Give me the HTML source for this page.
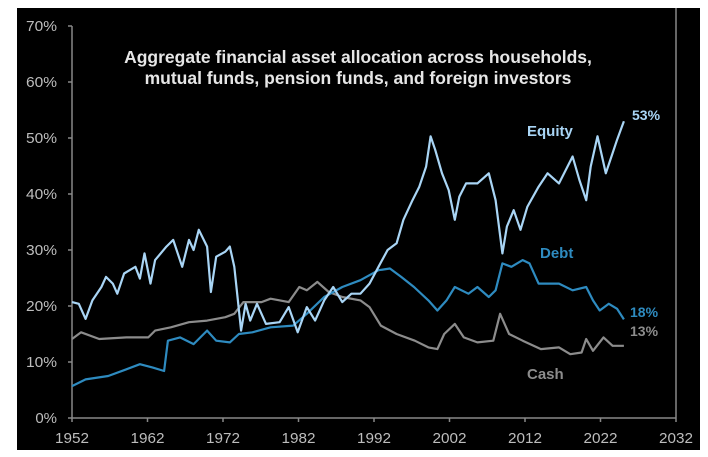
<!DOCTYPE html>
<html><head><meta charset="utf-8"><style>
html,body{margin:0;padding:0;background:#fff;}
svg{display:block;font-family:"Liberation Sans",sans-serif;}
</style></head><body>
<svg width="708" height="457" viewBox="0 0 708 457">
<rect x="17" y="8" width="683" height="442" fill="#000"/>
<g id="axes"></g>
<g id="series"></g>
<text x="358" y="63" text-anchor="middle" fill="#e6e6e6" font-size="17.5" font-weight="bold">Aggregate financial asset allocation across households,</text>
<text x="358" y="84" text-anchor="middle" fill="#e6e6e6" font-size="17.5" font-weight="bold">mutual funds, pension funds, and foreign investors</text>
<text x="527" y="136" fill="#a9d5f5" font-size="15" font-weight="bold">Equity</text>
<text x="632" y="120" fill="#a9d5f5" font-size="14" font-weight="bold">53%</text>
<text x="540" y="258" fill="#2e8bc0" font-size="15" font-weight="bold">Debt</text>
<text x="630" y="317" fill="#2e8bc0" font-size="14" font-weight="bold">18%</text>
<text x="630" y="336" fill="#8c8c8c" font-size="14" font-weight="bold">13%</text>
<text x="527" y="379" fill="#8c8c8c" font-size="15" font-weight="bold">Cash</text>
</svg>
<script>
const xTicks=[1952,1962,1972,1982,1992,2002,2012,2022,2032];
const yTicks=[0,10,20,30,40,50,60,70];
const equityYears=[1952,1952.9,1953.8,1954.7,1955.9,1956.5,1957.4,1958,1958.9,1960.4,1961,1961.6,1962.4,1963,1964.5,1965.4,1966.6,1967.5,1968.1,1968.8,1969.9,1970.4,1971.1,1972.3,1972.9,1973.5,1974.4,1975,1975.6,1976.5,1977.7,1979.5,1980.7,1981.9,1983.1,1984.2,1985.4,1986.6,1987.8,1989,1990.2,1991.4,1992.6,1993.8,1995,1995.9,1997.1,1998,1998.9,1999.5,2000.1,2001,2001.9,2002.7,2003.3,2004.2,2005.7,2007.2,2008.1,2009,2009.6,2010.5,2011.4,2012.3,2013.8,2015,2016.5,2018.3,2019.2,2020.1,2020.7,2021.6,2022.7,2023.6,2024.2,2025.1];
const equityValues=[20.7,20.4,17.7,21,23.4,25.2,24,22.2,25.8,27,24.9,29.4,24,28.2,30.6,31.8,27,31.8,30,33.6,30.6,22.5,28.8,29.7,30.6,27,15.6,20.4,17.4,20.4,16.8,17.1,19.8,15.3,19.8,17.4,21,23.4,20.7,22.2,22.2,24,27,30,31.2,35.4,38.9,41.3,44.9,50.3,47.9,43.7,40.7,35.4,39.5,41.9,41.9,43.7,38.9,29.4,34.2,37.1,33.6,37.7,41.3,43.7,41.9,46.7,42.5,38.9,44.9,50.3,43.7,47.3,49.7,53];
const debtYears=[1952,1953.8,1956.8,1959.2,1961,1962.7,1964.2,1964.7,1966.3,1968.1,1969.9,1971.1,1972.9,1974.1,1975.9,1978.3,1981.3,1983.1,1985.4,1987.8,1990.2,1992.6,1994.1,1995.6,1997.3,1999.2,2000.4,2001.6,2002.7,2004.5,2005.7,2007.2,2008.1,2009,2010.2,2011.7,2012.6,2013.8,2016.5,2018.3,2020.1,2021,2021.9,2023.1,2024.2,2025.1];
const debtValues=[5.7,6.9,7.5,8.7,9.6,9,8.4,13.8,14.4,13.2,15.6,13.8,13.5,15,15.3,16.2,16.5,18.6,21.6,23.4,24.6,26.4,26.7,25.2,23.4,21,19.2,21,23.4,22.2,23.4,21.6,22.8,27.6,27,28.2,27.6,24,24,22.8,23.4,21,19.2,20.4,19.5,17.6];
const cashYears=[1952,1953.2,1955.6,1959.2,1962.1,1963,1965.1,1967.5,1969.9,1972.3,1973.5,1974.7,1977.1,1978.3,1980.7,1982.1,1983.1,1984.5,1986,1987.8,1990.2,1991.4,1992.9,1995,1997.4,1999.2,2000.4,2001.3,2002.7,2003.9,2005.7,2007.8,2008.7,2009.9,2011.7,2014.1,2016.5,2018,2019.5,2020.1,2021,2022.4,2023.6,2025.1];
const cashValues=[14.1,15.3,14.1,14.4,14.4,15.6,16.2,17.1,17.4,18,18.6,20.7,20.7,21.3,20.7,23.4,22.8,24.3,22.5,21.6,21,19.8,16.5,15,13.8,12.6,12.3,15,16.8,14.4,13.5,13.8,18.6,15,13.8,12.3,12.6,11.4,11.7,14.1,12,14.4,12.9,12.9];

const NS="http://www.w3.org/2000/svg";
const X0=72,X1=676,Y0=418,Y1=26;
const xs=y=>X0+(y-1952)/(2032-1952)*(X1-X0);
const ys=v=>Y0-v/70*(Y0-Y1);
const axes=document.getElementById('axes');
const series=document.getElementById('series');
function mk(tag,attrs,parent){const e=document.createElementNS(NS,tag);for(const k in attrs)e.setAttribute(k,attrs[k]);parent.appendChild(e);return e;}
const yAxis=mk('line',{x1:X0,y1:Y1,x2:X0,y2:Y0,stroke:'#888','stroke-width':1.5},axes);


const xAxis=mk('line',{x1:X0,y1:Y0,x2:X1,y2:Y0,stroke:'#888','stroke-width':1.5},axes);


const rAxis=mk('line',{x1:X1,y1:8,x2:X1,y2:Y0,stroke:'#888','stroke-width':1.5},axes);


yTicks.forEach(v=>{
  const t=mk('line',{x1:X0-4,x2:X0,y1:ys(v),y2:ys(v),stroke:'#888','stroke-width':1.5},axes);
  
  
  const l=mk('text',{x:X0-15,y:ys(v)+5,'text-anchor':'end',fill:'#bdbdbd','font-size':15,textLength:31,lengthAdjust:'spacingAndGlyphs'},axes);
  l.textContent=v+'%';
  if(v===0){l.removeAttribute('textLength');l.removeAttribute('lengthAdjust');}
  
  
});
xTicks.forEach(y=>{
  const t=mk('line',{x1:xs(y),x2:xs(y),y1:Y0,y2:Y0+4,stroke:'#888','stroke-width':1.5},axes);
  
  
  const l=mk('text',{x:xs(y),y:Y0+25,'text-anchor':'middle',fill:'#bdbdbd','font-size':15,textLength:34,lengthAdjust:'spacingAndGlyphs'},axes);
  l.textContent=y;
  
  
});
function line(years,vals,color,name){
  const d=years.map((y,i)=>(i?'L':'M')+xs(y).toFixed(1)+','+ys(vals[i]).toFixed(1)).join('');
  const p=mk('path',{d:d,fill:'none',stroke:color,'stroke-width':2.2,'stroke-linejoin':'round'},series);
  
  
}
line(cashYears,cashValues,'#8c8c8c','cash-line');
line(debtYears,debtValues,'#2e8bc0','debt-line');
line(equityYears,equityValues,'#a9d5f5','equity-line');
</script>
</body></html>
